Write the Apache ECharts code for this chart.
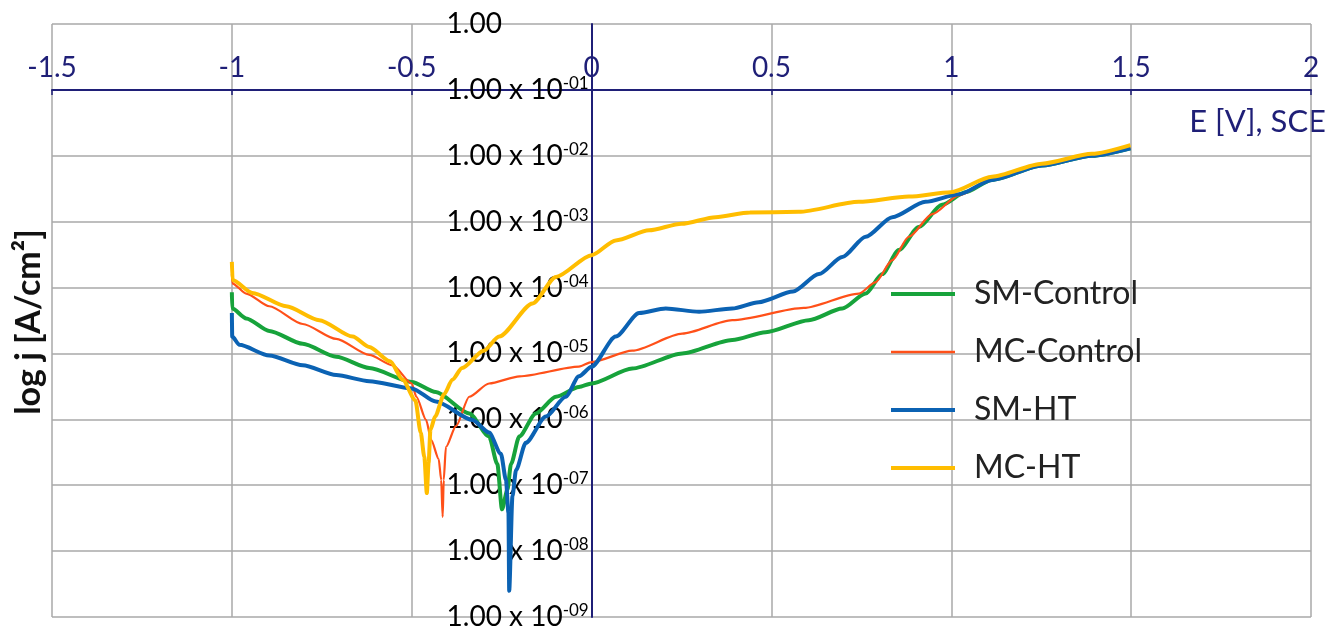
<!DOCTYPE html>
<html>
<head>
<meta charset="utf-8">
<script src="https://cdn.jsdelivr.net/npm/echarts@6/dist/echarts.min.js"></script>
<style>
html,body{margin:0;padding:0;background:#fff;}
#chart{width:1341px;height:631px;}
</style>
</head>
<body>
<div id="chart"></div>
<script>
// ---------------- data (E in V vs SCE, j in A/cm²) ----------------
const SERIES_NAMES = ['SM-Control', 'MC-Control', 'SM-HT', 'MC-HT'];

const E_SM_CONTROL = [-1.000, -0.999, -0.96, -0.896, -0.803, -0.71, -0.618, -0.5, -0.433, -0.34, -0.285, -0.262, -0.249, -0.234, -0.224, -0.201, -0.155, -0.099, -0.035, 0.0, 0.113, 0.252, 0.391, 0.484, 0.604, 0.697, 0.762, 0.808, 0.854, 0.91, 0.974, 1.039, 1.113, 1.252, 1.391, 1.498];
const J_SM_CONTROL = [8.5e-5, 4.8e-5, 3.4e-5, 2.2e-5, 1.4e-5, 8.9e-6, 6.0e-6, 3.7e-6, 2.6e-6, 1.23e-6, 5.5e-7, 2.1e-7, 4.3e-8, 8.5e-8, 2.1e-7, 5.5e-7, 1.23e-6, 2.2e-6, 3.1e-6, 3.5e-6, 5.9e-6, 1.0e-5, 1.6e-5, 2.1e-5, 3.2e-5, 4.8e-5, 8.1e-5, 1.6e-4, 3.7e-4, 8.3e-4, 1.8e-3, 2.8e-3, 4.3e-3, 7.1e-3, 1.0e-2, 1.3e-2];

const E_MC_CONTROL = [-1.000, -0.998, -0.96, -0.896, -0.803, -0.71, -0.618, -0.553, -0.5, -0.487, -0.46, -0.446, -0.425, -0.418, -0.414, -0.411, -0.405, -0.377, -0.34, -0.285, -0.2, -0.035, 0.0, 0.113, 0.252, 0.391, 0.59, 0.743, 0.789, 0.836, 0.882, 0.947, 1.021, 1.113, 1.252, 1.391, 1.498];
const J_MC_CONTROL = [1.6e-4, 1.15e-4, 8.1e-5, 5.2e-5, 2.8e-5, 1.66e-5, 9.5e-6, 6.6e-6, 3.5e-6, 2.2e-6, 9.8e-7, 4.9e-7, 2.5e-7, 1.2e-7, 3.3e-8, 1.2e-7, 3.8e-7, 7.9e-7, 2.2e-6, 3.5e-6, 4.5e-6, 6.3e-6, 7.4e-6, 1.1e-5, 2.0e-5, 3.2e-5, 4.9e-5, 8.1e-5, 1.2e-4, 2.6e-4, 5.9e-4, 1.3e-3, 2.5e-3, 4.3e-3, 7.1e-3, 1.0e-2, 1.3e-2];

const E_SM_HT = [-1.000, -0.999, -0.979, -0.896, -0.803, -0.71, -0.618, -0.5, -0.433, -0.331, -0.285, -0.252, -0.238, -0.231, -0.229, -0.22, -0.21, -0.183, -0.127, -0.072, -0.035, 0.0, 0.067, 0.132, 0.206, 0.299, 0.391, 0.465, 0.56, 0.632, 0.697, 0.762, 0.836, 0.928, 1.021, 1.113, 1.252, 1.391, 1.498];
const J_SM_HT = [4.1e-5, 1.8e-5, 1.35e-5, 9.3e-6, 6.6e-6, 4.7e-6, 3.8e-6, 2.95e-6, 1.86e-6, 9.8e-7, 6.3e-7, 3.0e-7, 1.2e-7, 3.8e-8, 2.5e-9, 6.8e-8, 1.7e-7, 4.4e-7, 1.1e-6, 2.2e-6, 4.5e-6, 6.3e-6, 1.8e-5, 4.1e-5, 4.8e-5, 4.3e-5, 4.8e-5, 6.0e-5, 8.7e-5, 1.6e-4, 2.9e-4, 5.9e-4, 1.17e-3, 2.0e-3, 2.6e-3, 4.3e-3, 7.1e-3, 1.0e-2, 1.3e-2];

const E_MC_HT = [-1.000, -0.998, -0.943, -0.849, -0.757, -0.664, -0.618, -0.56, -0.525, -0.49, -0.475, -0.465, -0.458, -0.453, -0.448, -0.435, -0.41, -0.387, -0.36, -0.30, -0.257, -0.164, -0.099, 0.0, 0.067, 0.16, 0.25, 0.345, 0.44, 0.576, 0.743, 0.882, 0.998, 1.113, 1.252, 1.391, 1.498];
const J_MC_HT = [2.45e-4, 1.3e-4, 8.3e-5, 5.2e-5, 3.2e-5, 1.8e-5, 1.25e-5, 7.6e-6, 4.0e-6, 1.95e-6, 6.3e-7, 2.7e-7, 7.6e-8, 2.2e-7, 6.9e-7, 1.1e-6, 2.4e-6, 4.0e-6, 6.0e-6, 1.1e-5, 1.8e-5, 5.75e-5, 1.45e-4, 3.1e-4, 5.2e-4, 7.4e-4, 9.3e-4, 1.17e-3, 1.38e-3, 1.41e-3, 2.0e-3, 2.4e-3, 2.8e-3, 4.8e-3, 7.6e-3, 1.07e-2, 1.45e-2];

// y tick labels: "1.00 x 10^(sup)" per decade, index = -exponent
const Y_TICK_MAIN = ['1.00', '1.00 x 10', '1.00 x 10', '1.00 x 10', '1.00 x 10', '1.00 x 10', '1.00 x 10', '1.00 x 10', '1.00 x 10', '1.00 x 10'];
const Y_TICK_SUP  = ['', '-01', '-02', '-03', '-04', '-05', '-06', '-07', '-08', '-09'];

const X_AXIS_TITLE = 'E [V], SCE';
const Y_AXIS_TITLE = 'log j [A/cm\u00B2]';

// ---------------- chart ----------------
const NAVY = '#1f1f77';
const GRIDC = '#a8a8a8';
const COLORS = ['#17a33b', '#ff5019', '#0b62b3', '#ffbd00'];
const WIDTHS = [4, 2.2, 4, 4];
const LEGEND_ICONS = ['rect', 'path://M0,0H64V2.4H0Z', 'rect', 'rect'];

function zip(xs, ys) { return xs.map((x, i) => [x, ys[i]]); }
const DATA = [zip(E_SM_CONTROL, J_SM_CONTROL), zip(E_MC_CONTROL, J_MC_CONTROL), zip(E_SM_HT, J_SM_HT), zip(E_MC_HT, J_MC_HT)];

const GRID_LEFT = 52, GRID_RIGHT = 30;
const PLOT_W = 1341 - GRID_LEFT - GRID_RIGHT;
const X_MIN = -1.5, X_MAX = 2;

const chart = echarts.init(document.getElementById('chart'), null, {renderer: 'canvas'});
chart.setOption({
  animation: false,
  backgroundColor: '#fff',
  grid: {left: GRID_LEFT, right: GRID_RIGHT, top: 24, bottom: 14, containLabel: false, outerBoundsMode: 'none'},
  legend: {
    orient: 'vertical',
    left: 886,
    top: 273,
    itemWidth: 64,
    itemHeight: 4,
    itemGap: 26,
    icon: 'rect',
    data: SERIES_NAMES.map((n, i) => ({name: n, icon: LEGEND_ICONS[i]})),
    textStyle: {fontFamily: 'Lato', fontSize: 32, color: '#222', lineHeight: 32, padding: [0, 0, 0, 14]}
  },
  xAxis: {
    type: 'value',
    min: X_MIN, max: X_MAX, interval: 0.5,
    position: 'top',
    offset: -66,
    axisLine: {onZero: false, lineStyle: {color: NAVY, width: 2}},
    axisTick: {show: true, inside: true, length: 5, lineStyle: {color: NAVY, width: 1.5}},
    axisLabel: {color: NAVY, fontFamily: 'Lato', fontSize: 28, margin: 8},
    splitLine: {show: true, lineStyle: {color: GRIDC, width: 1.5}}
  },
  yAxis: {
    type: 'log', logBase: 10,
    min: 1e-9, max: 1,
    splitNumber: 9,
    position: 'left',
    // place the y axis at E = 0
    offset: -PLOT_W * (0 - X_MIN) / (X_MAX - X_MIN),
    axisLine: {show: true, onZero: false, lineStyle: {color: NAVY, width: 2}},
    axisTick: {show: false},
    splitLine: {show: true, lineStyle: {color: GRIDC, width: 1.5}},
    axisLabel: {
      align: 'left',
      margin: 145,
      formatter: function (v) {
        const k = Math.round(-Math.log10(v));
        if (k === 0) return '{b|' + Y_TICK_MAIN[0] + '}';
        return '{b|' + Y_TICK_MAIN[k] + '}{s|' + Y_TICK_SUP[k] + '}';
      },
      rich: {
        b: {fontFamily: 'Lato', fontSize: 28, color: '#000', lineHeight: 30},
        s: {fontFamily: 'Lato', fontSize: 17, color: '#000', verticalAlign: 'top', lineHeight: 17}
      }
    }
  },
  graphic: [
    {type: 'text', x: 29, y: 322, rotation: Math.PI / 2,
     style: {text: Y_AXIS_TITLE, font: 'bold 34px Lato', fill: '#111', textAlign: 'center', textVerticalAlign: 'middle'}},
    {type: 'text', x: 1326, y: 122,
     style: {text: X_AXIS_TITLE, font: '31px Lato', fill: NAVY, textAlign: 'right', textVerticalAlign: 'middle'}}
  ],
  series: SERIES_NAMES.map((name, i) => ({
    name: name,
    type: 'line',
    data: DATA[i],
    symbol: 'none',
    smooth: 0.25,
    smoothMonotone: 'x',
    z: 3 + i,
    color: COLORS[i],
    lineStyle: {color: COLORS[i], width: WIDTHS[i]}
  }))
});
</script>
</body>
</html>
